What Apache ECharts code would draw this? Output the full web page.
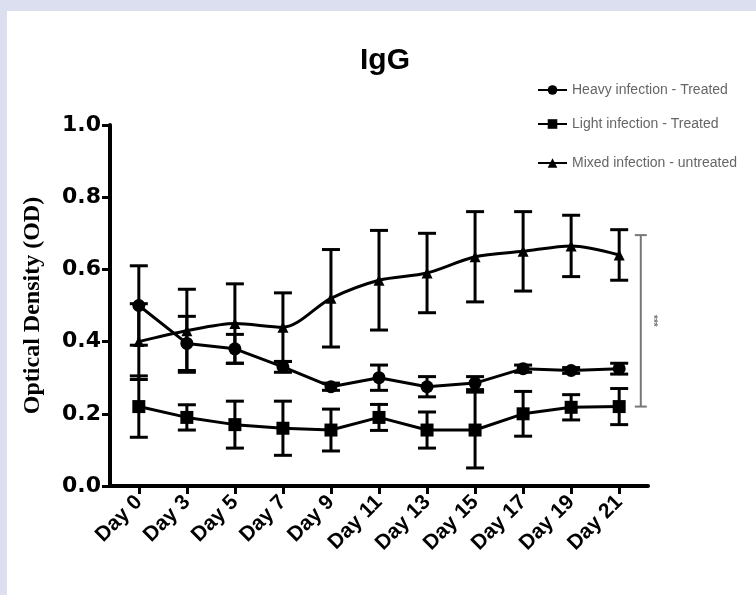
<!DOCTYPE html>
<html>
<head>
<meta charset="utf-8">
<script src="https://cdn.jsdelivr.net/npm/echarts@6/dist/echarts.min.js"></script>
<style>
  html, body { margin: 0; padding: 0; background: #dcdff0; }
  #main { width: 756px; height: 595px; }
</style>
</head>
<body>
<div id="main"></div>
<script>
// categories
var days = ['Day 0', 'Day 3', 'Day 5', 'Day 7', 'Day 9', 'Day 11', 'Day 13', 'Day 15', 'Day 17', 'Day 19', 'Day 21']

// mean OD and error (+/-) for each group
var heavyMean = [0.50, 0.395, 0.38, 0.33, 0.275, 0.30, 0.275, 0.285, 0.325, 0.32, 0.325]
var heavyErr  = [0.11, 0.075, 0.04, 0.015, 0.01, 0.035, 0.028, 0.018, 0.01, 0.008, 0.015]
var lightMean = [0.22, 0.19, 0.17, 0.16, 0.155, 0.19, 0.155, 0.155, 0.20, 0.218, 0.22]
var lightErr  = [0.085, 0.035, 0.065, 0.075, 0.058, 0.036, 0.05, 0.105, 0.062, 0.035, 0.05]
var mixedMean = [0.40, 0.43, 0.45, 0.44, 0.52, 0.57, 0.59, 0.635, 0.65, 0.665, 0.64]
var mixedErr  = [0.105, 0.115, 0.11, 0.095, 0.135, 0.138, 0.11, 0.125, 0.11, 0.085, 0.07]

var groupNames = ['Heavy infection - Treated', 'Light infection - Treated', 'Mixed infection - untreated']

// significance bracket: x position (axis units), low, high
var sigBracket = [10.45, 0.22, 0.695]

function pts(mean) {
  return mean.map(function (v, i) { return [i, v] })
}
function bars(mean, err) {
  return mean.map(function (v, i) { return [i, v - err[i], v + err[i]] })
}

function errorBar(params, api) {
  var x = api.value(0)
  var top = api.coord([x, api.value(2)])
  var bot = api.coord([x, api.value(1)])
  var hw = 9
  var st = { stroke: '#000', lineWidth: 3 }
  return {
    type: 'group',
    children: [
      { type: 'line', shape: { x1: top[0], y1: top[1], x2: bot[0], y2: bot[1] }, style: st },
      { type: 'line', shape: { x1: top[0] - hw, y1: top[1], x2: top[0] + hw, y2: top[1] }, style: st },
      { type: 'line', shape: { x1: bot[0] - hw, y1: bot[1], x2: bot[0] + hw, y2: bot[1] }, style: st }
    ]
  }
}

function bracket(params, api) {
  var x = api.value(0)
  var top = api.coord([x, api.value(2)])
  var bot = api.coord([x, api.value(1)])
  var hw = 6
  var st = { stroke: '#777', lineWidth: 2 }
  var mid = (top[1] + bot[1]) / 2
  return {
    type: 'group',
    children: [
      { type: 'line', shape: { x1: top[0], y1: top[1], x2: bot[0], y2: bot[1] }, style: st },
      { type: 'line', shape: { x1: top[0] - hw, y1: top[1], x2: top[0] + hw, y2: top[1] }, style: st },
      { type: 'line', shape: { x1: bot[0] - hw, y1: bot[1], x2: bot[0] + hw, y2: bot[1] }, style: st },
      {
        type: 'text', x: top[0] + 12, y: mid, rotation: -Math.PI / 2,
        style: { text: '***', fill: '#777', font: 'bold 10px Liberation Sans', align: 'center', verticalAlign: 'middle' }
      }
    ]
  }
}

var chart = echarts.init(document.getElementById('main'))

var lineStyle = { color: '#000', width: 3 }
var legendText = { color: '#666', fontSize: 14, fontFamily: 'Liberation Sans' }
function legendAt(name, top) {
  return {
    data: [name], left: 532, top: top, itemWidth: 29, itemHeight: 12, itemGap: 10,
    textStyle: legendText, selectedMode: false
  }
}

var option = {
  backgroundColor: '#dcdff0',
  animation: false,
  graphic: [
    { type: 'rect', left: 7, top: 11, shape: { width: 760, height: 600 }, style: { fill: '#fff' }, z: -10 }
  ],
  title: {
    text: 'IgG', left: 380, top: 41, textAlign: 'center',
    textStyle: { fontFamily: 'Liberation Sans', fontSize: 30, fontWeight: 'bold', color: '#000' }
  },
  legend: [
    legendAt(groupNames[0], 78),
    legendAt(groupNames[1], 112),
    legendAt(groupNames[2], 151)
  ],
  grid: { left: 110, right: 108, top: 125, bottom: 109 },
  xAxis: {
    type: 'value', min: -0.6, max: 10.6,
    axisLine: { lineStyle: { color: '#000', width: 4 } },
    axisTick: { customValues: days.map(function (d, i) { return i }), length: 8, lineStyle: { width: 3, color: '#000' } },
    axisLabel: {
      customValues: days.map(function (d, i) { return i }),
      formatter: function (v) { return days[v] },
      rotate: 45, margin: 13, color: '#000',
      fontFamily: 'Liberation Sans', fontSize: 21, fontWeight: 'bold'
    },
    splitLine: { show: false }
  },
  yAxis: {
    type: 'value', min: 0, max: 1, interval: 0.2,
    name: 'Optical Density (OD)', nameLocation: 'middle', nameGap: 65,
    nameTextStyle: { fontFamily: 'Liberation Serif', fontSize: 24, fontWeight: 'bold', color: '#000' },
    axisLine: { show: true, onZero: false, lineStyle: { color: '#000', width: 4 } },
    axisTick: { show: true, length: 8, lineStyle: { width: 3, color: '#000' } },
    axisLabel: {
      formatter: function (v) { return v.toFixed(1) }, margin: 9, color: '#000',
      fontFamily: 'DejaVu Sans', fontSize: 22, fontWeight: 'bold'
    },
    splitLine: { show: false }
  },
  series: [
    { type: 'custom', renderItem: errorBar, data: bars(heavyMean, heavyErr), z: 3, silent: true },
    { type: 'custom', renderItem: errorBar, data: bars(lightMean, lightErr), z: 3, silent: true },
    { type: 'custom', renderItem: errorBar, data: bars(mixedMean, mixedErr), z: 3, silent: true },
    {
      name: groupNames[0], type: 'line', data: pts(heavyMean), symbol: 'circle', symbolSize: 13,
      lineStyle: lineStyle, itemStyle: { color: '#000' }, z: 4
    },
    {
      name: groupNames[1], type: 'line', data: pts(lightMean), symbol: 'rect', symbolSize: 13,
      lineStyle: lineStyle, itemStyle: { color: '#000' }, z: 4
    },
    {
      name: groupNames[2], type: 'line', data: pts(mixedMean), symbol: 'triangle', symbolSize: 11, smooth: 0.3,
      lineStyle: lineStyle, itemStyle: { color: '#000' }, z: 4
    },
    { type: 'custom', renderItem: bracket, data: [sigBracket], z: 3, silent: true }
  ]
}
chart.setOption(option)
</script>
</body>
</html>
